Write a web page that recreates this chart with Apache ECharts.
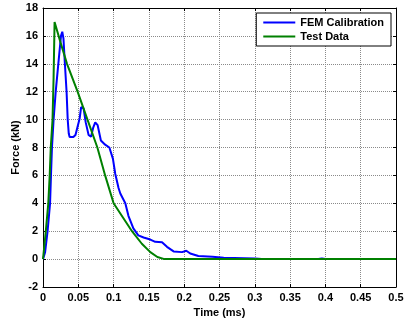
<!DOCTYPE html>
<html>
<head>
<meta charset="utf-8">
<script src="https://cdn.jsdelivr.net/npm/echarts@6/dist/echarts.min.js"></script>
<style>
  html, body { margin: 0; padding: 0; background: #fff; }
  #chart { width: 405px; height: 321px; }
</style>
</head>
<body>
<div id="chart"></div>
<script>
// FEM calibration curve, [time (ms), force (kN)]
const femTime = [0, 0.003, 0.0065, 0.01, 0.0113, 0.0127, 0.015, 0.018, 0.0217, 0.0255, 0.0273, 0.029, 0.031, 0.0334, 0.035, 0.0365, 0.0377, 0.040, 0.043, 0.046, 0.048, 0.052, 0.054, 0.0552, 0.0575, 0.0605, 0.0646, 0.068, 0.071, 0.074, 0.0774, 0.082, 0.088, 0.094, 0.099, 0.1024, 0.107, 0.1095, 0.1166, 0.121, 0.128, 0.135, 0.1425, 0.152, 0.159, 0.1686, 0.1756, 0.185, 0.197, 0.203, 0.2086, 0.22, 0.24, 0.256, 0.3, 0.31, 0.39, 0.395, 0.4, 0.5];
const femForce = [0, 0.5, 2, 4, 6, 8, 10, 12, 14, 16, 16.3, 15.8, 14, 12, 10, 9, 8.75, 8.85, 8.75, 8.9, 9.0, 10.1, 10.9, 11.0, 10.8, 9.8, 8.9, 8.77, 9.4, 9.8, 9.6, 8.5, 8.2, 8.0, 7.2, 6.1, 5.1, 4.7, 4.0, 3.1, 2.2, 1.7, 1.55, 1.4, 1.24, 1.2, 0.88, 0.55, 0.5, 0.6, 0.4, 0.22, 0.16, 0.1, 0.05, 0, 0, 0.05, 0, 0];

// test data curve
const testTime = [0, 0.004, 0.0075, 0.0095, 0.011, 0.0135, 0.015, 0.0164, 0.025, 0.034, 0.049, 0.063, 0.077, 0.088, 0.1, 0.113, 0.126, 0.14, 0.152, 0.162, 0.172, 0.5];
const testForce = [0, 2, 4, 6, 8, 10, 13, 17, 15.5, 14, 12, 10, 8, 6, 4, 3, 2, 1.1, 0.5, 0.15, 0, 0];

const seriesNames = ['FEM Calibration', 'Test Data'];

const pair = (xs, ys) => xs.map((x, i) => [x, ys[i]]);

const chart = echarts.init(document.getElementById('chart'));

const font = { fontFamily: 'Liberation Sans, Arial, sans-serif', fontWeight: 'bold', fontSize: 11, color: '#000' };
const gridLine = { show: true, lineStyle: { color: '#8a8a8a', type: 'dotted', width: 1 } };
const axisLine = { show: true, onZero: false, lineStyle: { color: '#000', width: 1 } };
const tick = { show: true, inside: true, length: 3, lineStyle: { color: '#000' } };

chart.setOption({
    animation: false,
    backgroundColor: '#fff',
    grid: { left: 43, right: 9, top: 8, bottom: 34, outerBoundsMode: 'none', containLabel: false },
    legend: {
        data: seriesNames,
        orient: 'vertical',
        right: 14,
        top: 13,
        padding: [4, 7, 4, 7],
        itemGap: 3,
        itemWidth: 32,
        itemHeight: 2,
        icon: 'rect',
        backgroundColor: '#fff',
        borderColor: '#000',
        borderWidth: 1,
        borderRadius: 0,
        textStyle: Object.assign({}, font, { fontSize: 11 })
    },
    xAxis: [
        {
            type: 'value',
            min: 0,
            max: 0.5,
            interval: 0.05,
            name: 'Time (ms)',
            nameLocation: 'middle',
            nameGap: 20,
            nameMoveOverlap: false,
            nameTextStyle: font,
            axisLine: axisLine,
            axisTick: tick,
            axisLabel: Object.assign({ margin: 5, formatter: (v) => String(+v.toFixed(2)) }, font),
            splitLine: gridLine
        },
        {
            type: 'value',
            position: 'top',
            min: 0,
            max: 0.5,
            interval: 0.05,
            axisLine: axisLine,
            axisTick: tick,
            axisLabel: { show: false },
            splitLine: { show: false }
        }
    ],
    yAxis: [
        {
            type: 'value',
            min: -2,
            max: 18,
            interval: 2,
            name: 'Force (kN)',
            nameLocation: 'middle',
            nameGap: 22,
            nameMoveOverlap: false,
            nameTextStyle: font,
            axisLine: axisLine,
            axisTick: tick,
            axisLabel: Object.assign({ margin: 5 }, font),
            splitLine: gridLine
        },
        {
            type: 'value',
            position: 'right',
            min: -2,
            max: 18,
            interval: 2,
            axisLine: axisLine,
            axisTick: tick,
            axisLabel: { show: false },
            splitLine: { show: false }
        }
    ],
    series: [
        {
            name: seriesNames[0],
            type: 'line',
            symbol: 'none',
            smooth: false,
            lineStyle: { color: '#0000ff', width: 2 },
            itemStyle: { color: '#0000ff' },
            data: pair(femTime, femForce)
        },
        {
            name: seriesNames[1],
            type: 'line',
            symbol: 'none',
            smooth: false,
            lineStyle: { color: '#008000', width: 2 },
            itemStyle: { color: '#008000' },
            data: pair(testTime, testForce)
        }
    ]
});
</script>
</body>
</html>
